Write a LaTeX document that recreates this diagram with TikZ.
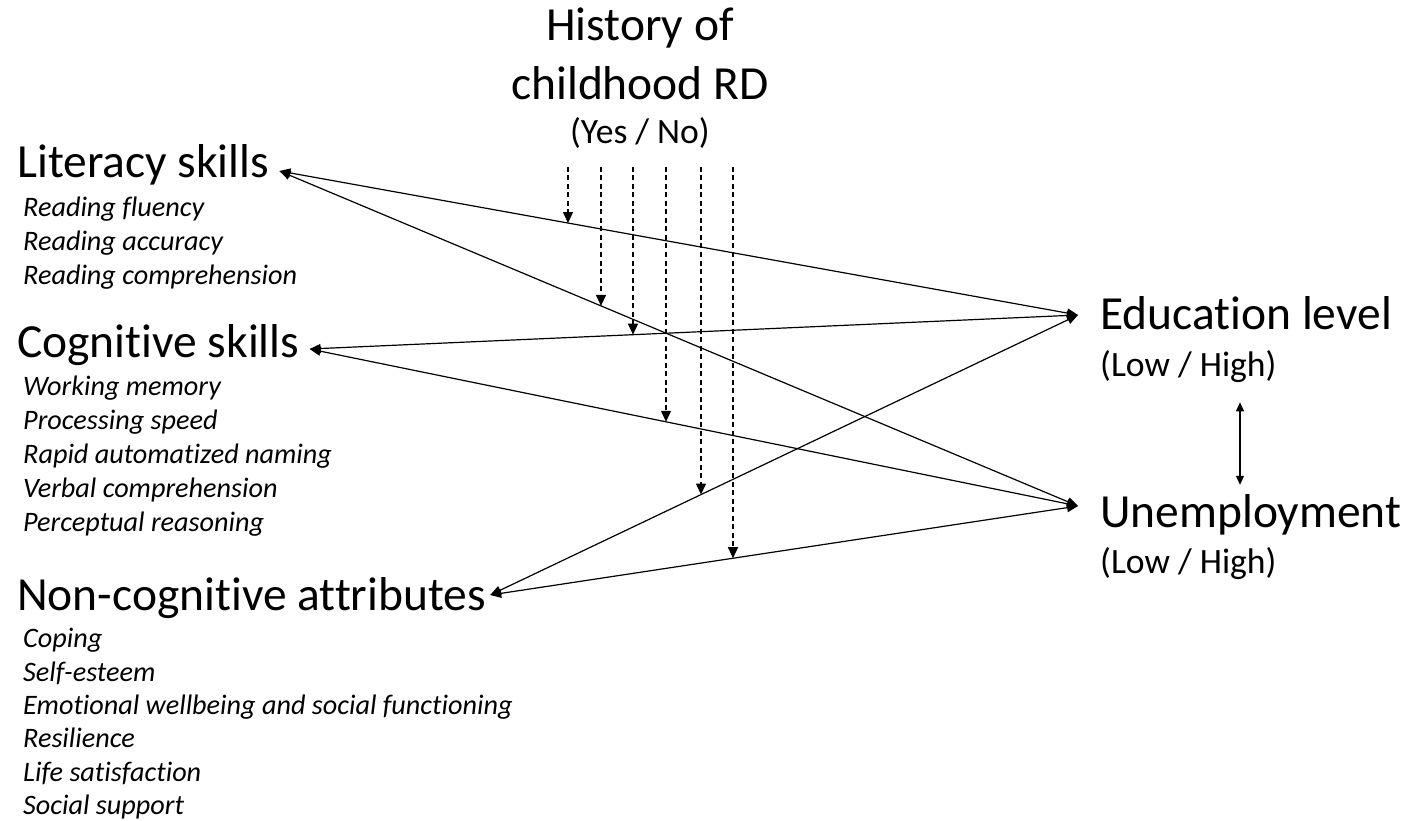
\documentclass[tikz,border=0pt]{standalone}
\usepackage{fontspec}
\setmainfont{Carlito}[Ligatures=NoCommon]
\usetikzlibrary{arrows.meta,intersections}

\tikzset{
  mainlbl/.style={font=\fontsize{47.5}{56}\selectfont, inner sep=0pt, anchor=base west},
  sublbl/.style={font=\fontsize{35.6}{42}\selectfont, inner sep=0pt, anchor=base west},
  itemlbl/.style={font=\itshape\fontsize{28.2}{33}\selectfont, inner sep=0pt, anchor=base west},
  link/.style={line width=1.2pt, {Triangle[length=11pt,width=9pt]}-{Triangle[length=11pt,width=9pt]}},
  moder/.style={line width=1.2pt, dash pattern=on 5pt off 3.5pt, -{Triangle[length=11pt,width=10pt]}},
  corr/.style={line width=1.2pt, {Triangle[length=9pt,width=8pt]}-{Triangle[length=9pt,width=8pt]}},
}

\begin{document}
\begin{tikzpicture}[x=1pt,y=-1pt]
  \useasboundingbox (0,0) rectangle (1411,821);
  % moderator
  \node[mainlbl, anchor=base] (hist1) at (640,41) {History of};
  \node[mainlbl, anchor=base] (hist2) at (640,100) {childhood RD};
  \node[sublbl, anchor=base] (histyn) at (640,144) {(Yes / No)};
  % predictors
  \node[mainlbl] (lit) at (17,178) {Literacy skills};
  \foreach \t [count=\i] in {Reading fluency,Reading accuracy,Reading comprehension}
    \node[itemlbl] (lit\i) at (23,183.5+33.5*\i) {\t};
  \node[mainlbl] (cog) at (17,357) {Cognitive skills};
  \foreach \t [count=\i] in {Working memory,Processing speed,Rapid automatized naming,Verbal comprehension,Perceptual reasoning}
    \node[itemlbl] (cog\i) at (23,362+33.8*\i) {\t};
  \node[mainlbl] (ncog) at (17,610) {Non-cognitive attributes};
  \foreach \t [count=\i] in {Coping,Self-esteem,Emotional wellbeing and social functioning,Resilience,Life satisfaction,Social support}
    \node[itemlbl] (ncog\i) at (23,614.5+33.3*\i) {\t};
  % outcomes
  \node[mainlbl] (edu) at (1100,329) {Education level};
  \node[sublbl] (eduhl) at (1100,376) {(Low / High)};
  \node[mainlbl] (unem) at (1100,527) {Unemployment};
  \node[sublbl] (unemhl) at (1100,573) {(Low / High)};
  % arrow ends
  \coordinate (litP) at ([xshift=10pt,yshift=7pt]lit.base east);
  \coordinate (cogP) at ([xshift=10pt,yshift=8pt]cog.base east);
  \coordinate (ncogP) at ([xshift=4pt,yshift=15pt]ncog.base east);
  \coordinate (eduP) at ([xshift=-22pt,yshift=14pt]edu.base west);
  \coordinate (unemP) at ([xshift=-22pt,yshift=21pt]unem.base west);
  % paths
  \draw[link, name path=le] (litP) -- (eduP);
  \draw[link, name path=lu] (litP) -- (unemP);
  \draw[link, name path=ce] (cogP) -- (eduP);
  \draw[link, name path=cu] (cogP) -- (unemP);
  \draw[link, name path=ne] (ncogP) -- (eduP);
  \draw[link, name path=nu] (ncogP) -- (unemP);
  \draw[corr] ([yshift=-20pt]eduhl.south -| 1240,0) -- ([yshift=9pt]unem.north -| 1240,0);
  % moderation
  \foreach \x/\p in {568/le,601/lu,633/ce,666/cu,701/ne,733/nu} {
    \path[name path=vert] (\x,150) -- (\x,800);
    \draw[moder, name intersections={of=vert and \p}] (\x,167) -- (intersection-1);
  }
\end{tikzpicture}
\end{document}
